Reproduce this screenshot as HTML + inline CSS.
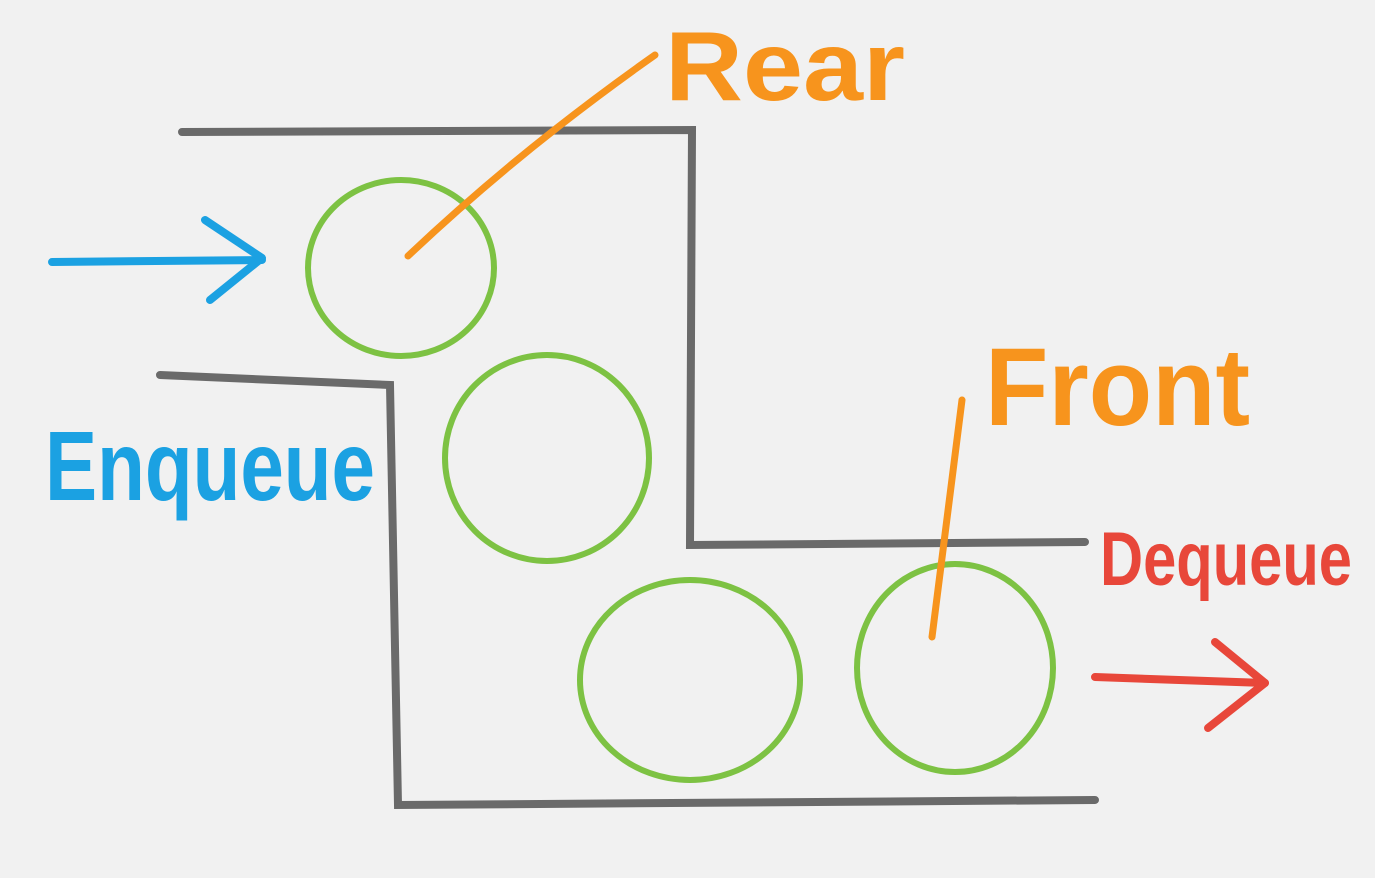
<!DOCTYPE html>
<html><head><meta charset="utf-8"><style>
html,body{margin:0;padding:0;background:#f1f1f1;}
svg{display:block;}
text{font-family:"Liberation Sans",sans-serif;font-weight:bold;}
</style></head><body>
<svg width="1375" height="878" viewBox="0 0 1375 878">
<rect width="1375" height="878" fill="#f1f1f1"/>
<g stroke="#6a6a6a" stroke-width="8" stroke-linecap="round" fill="none">
  <path d="M182 132 L692 130 L690 545 L1085 542"/>
  <path d="M160 375 L390 385 L398 805 L1095 800"/>
</g>
<g stroke="#7dc243" stroke-width="6" fill="none">
  <ellipse cx="401" cy="268" rx="93" ry="88"/>
  <ellipse cx="547" cy="458" rx="102" ry="103"/>
  <ellipse cx="690" cy="680" rx="110" ry="100"/>
  <ellipse cx="955" cy="668" rx="98" ry="104"/>
</g>
<g stroke="#f7941d" stroke-width="7" stroke-linecap="round" fill="none">
  <path d="M408 256 Q520 150 655 55"/>
  <path d="M962 400 L932 637"/>
</g>
<text x="665" y="100" font-size="98" fill="#f7941d" textLength="240" lengthAdjust="spacingAndGlyphs">Rear</text>
<text x="985" y="425" font-size="110" fill="#f7941d" textLength="265" lengthAdjust="spacingAndGlyphs">Front</text>
<text x="45" y="500" font-size="98" fill="#1ba1e2" textLength="330" lengthAdjust="spacingAndGlyphs">Enqueue</text>
<text x="1100" y="585" font-size="76" fill="#e8473a" textLength="252" lengthAdjust="spacingAndGlyphs">Dequeue</text>
<g stroke="#1ba1e2" stroke-width="8" stroke-linecap="round" stroke-linejoin="round" fill="none">
  <path d="M52 262 L262 260"/>
  <path d="M205 220 L262 258 L210 300"/>
</g>
<g stroke="#e8473a" stroke-width="8" stroke-linecap="round" stroke-linejoin="round" fill="none">
  <path d="M1095 677 L1265 683"/>
  <path d="M1215 642 L1265 683 L1208 728"/>
</g>
</svg>
</body></html>
